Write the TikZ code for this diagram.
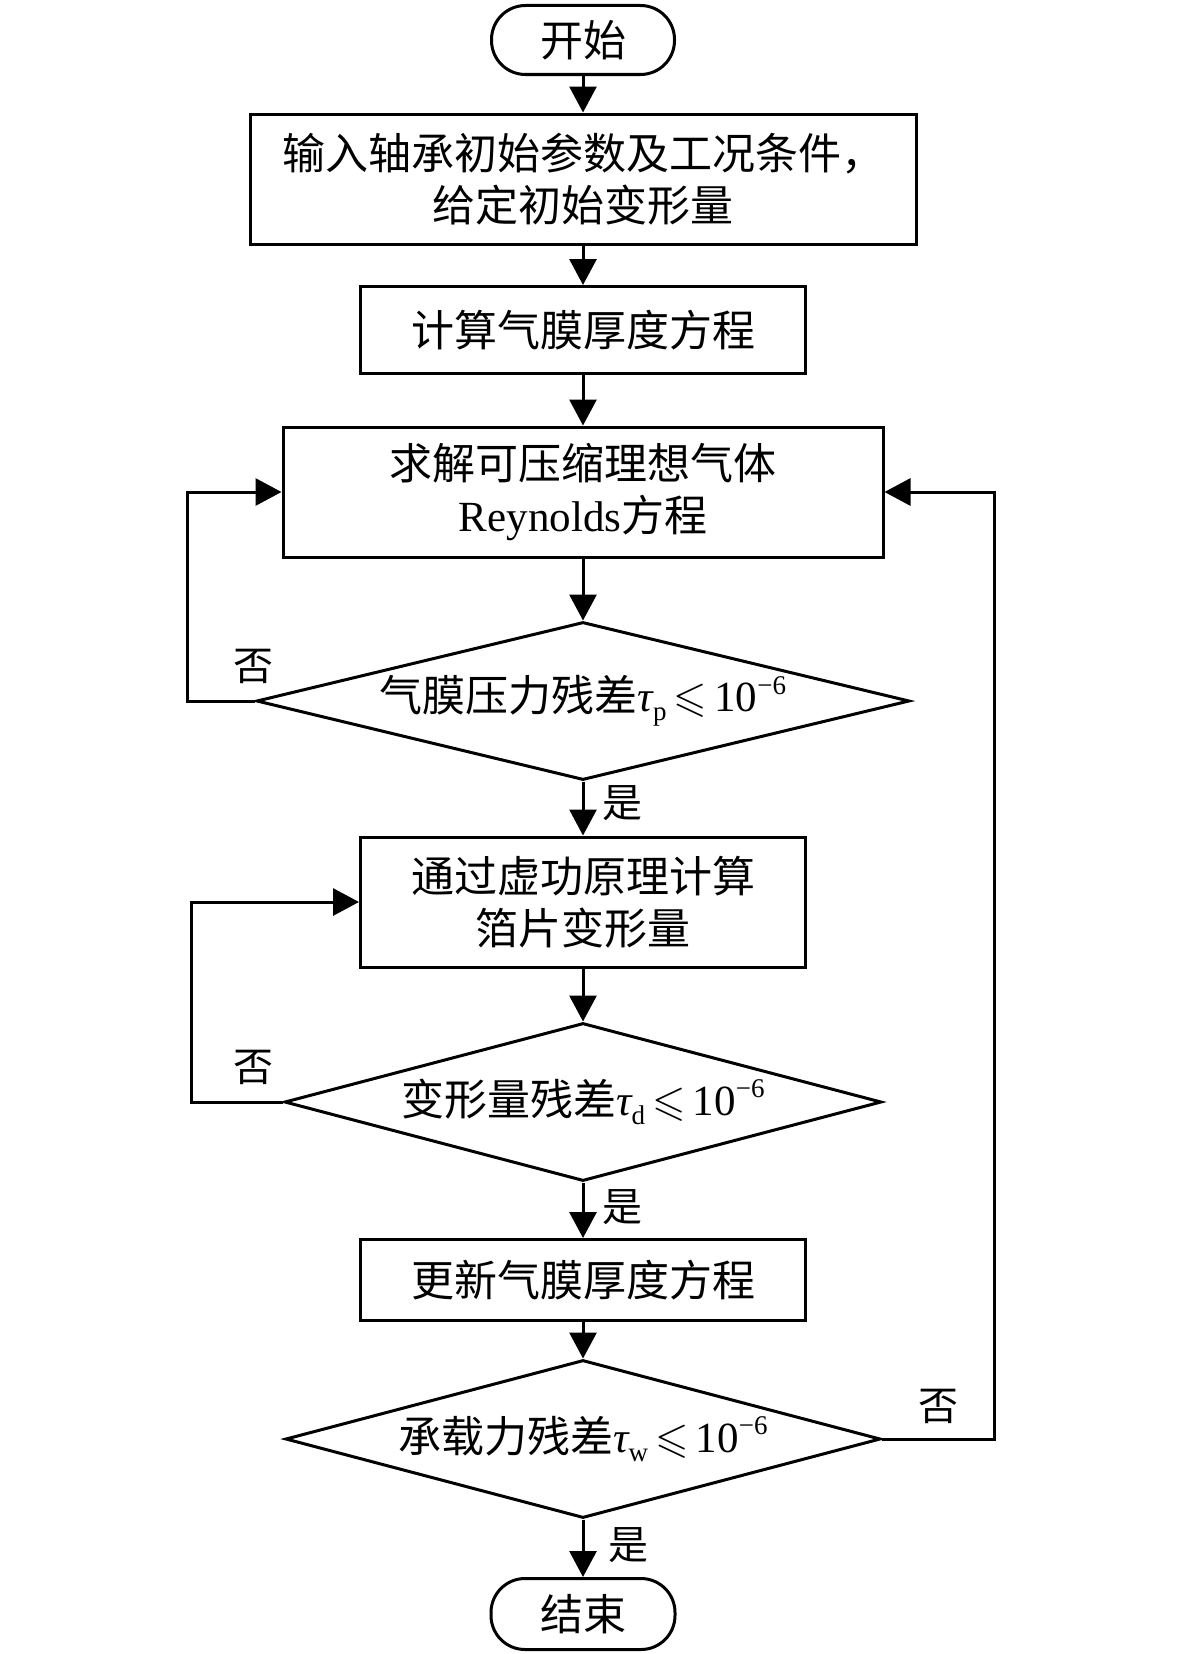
\documentclass[tikz,border=0pt]{standalone}
\usepackage{fontspec}
\usepackage{amssymb}
\setmainfont{Liberation Serif}
\newfontfamily\cjk{Noto Sans CJK SC}
\newfontfamily\lat{Liberation Serif}
\usetikzlibrary{shapes.geometric,arrows.meta}
\newcommand{\subx}[1]{\raisebox{-0.4ex}{\lat\fontsize{27}{27}\selectfont #1}}
\newcommand{\supx}[1]{\raisebox{0.75ex}{\lat\fontsize{27}{27}\selectfont #1}}
\newcommand{\mth}[1]{{\lat\itshape τ}\subx{#1}\,$\leqslant$\,{\lat 10}\supx{−6}}
\begin{document}
\begin{tikzpicture}[x=1pt,y=-1pt,
  base/.style={draw, line width=3pt, inner sep=0pt, align=center,
    font=\cjk\fontsize{43}{52}\selectfont},
  term/.style={base, rectangle, rounded corners=34pt},
  proc/.style={base, rectangle},
  dec/.style={base, diamond, aspect=4},
  arr/.style={-{Triangle[length=26pt,width=27pt]}, line width=3pt},
  lbl/.style={font=\cjk\fontsize{40}{40}\selectfont, inner sep=0pt}]
\useasboundingbox (0,0) rectangle (1181,1654);
\node[term, minimum width=183pt, minimum height=69pt] (start) at (583,40) {开始};
\node[proc, minimum width=666pt, minimum height=130pt] (b1) at (583,179) {输入轴承初始参数及工况条件，\\给定初始变形量};
\node[proc, minimum width=445pt, minimum height=87pt] (b2) at (583,330) {计算气膜厚度方程};
\node[proc, minimum width=600pt, minimum height=130pt] (b3) at (583,492) {求解可压缩理想气体\\{\lat Reynolds}方程};
\node[dec, minimum width=653pt, minimum height=158pt] (d1) at (583,701) {气膜压力残差\mth{p}};
\node[proc, minimum width=445pt, minimum height=130pt] (b4) at (583,902) {通过虚功原理计算\\箔片变形量};
\node[dec, minimum width=597pt, minimum height=158pt] (d2) at (583,1102) {变形量残差\mth{d}};
\node[proc, minimum width=445pt, minimum height=81pt] (b5) at (583,1280) {更新气膜厚度方程};
\node[dec, minimum width=595pt, minimum height=158pt] (d3) at (583,1439) {承载力残差\mth{w}};
\node[term, minimum width=184pt, minimum height=71pt] (end) at (583,1614) {结束};

\draw[arr] (start) -- (b1);
\draw[arr] (b1) -- (b2);
\draw[arr] (b2) -- (b3);
\draw[arr] (b3) -- (d1);
\draw[arr] (d1) -- (b4);
\draw[arr] (b4) -- (d2);
\draw[arr] (d2) -- (b5);
\draw[arr] (b5) -- (d3);
\draw[arr] (d3) -- (end);

\draw[arr] (d1.west) -- ++(-68,0) |- (b3.west);
\draw[arr] (d2.west) -- ++(-92,0) |- (b4.west);
\draw[arr] (d3.east) -- ++(112,0) |- (b3.east);

\node[lbl] (n1) at (253,666) {否};
\node[lbl] (n2) at (253,1067) {否};
\node[lbl] (n3) at (938,1406) {否};
\node[lbl] (y1) at (622,803) {是};
\node[lbl] (y2) at (622,1207) {是};
\node[lbl] (y3) at (628,1545) {是};
\end{tikzpicture}
\end{document}
